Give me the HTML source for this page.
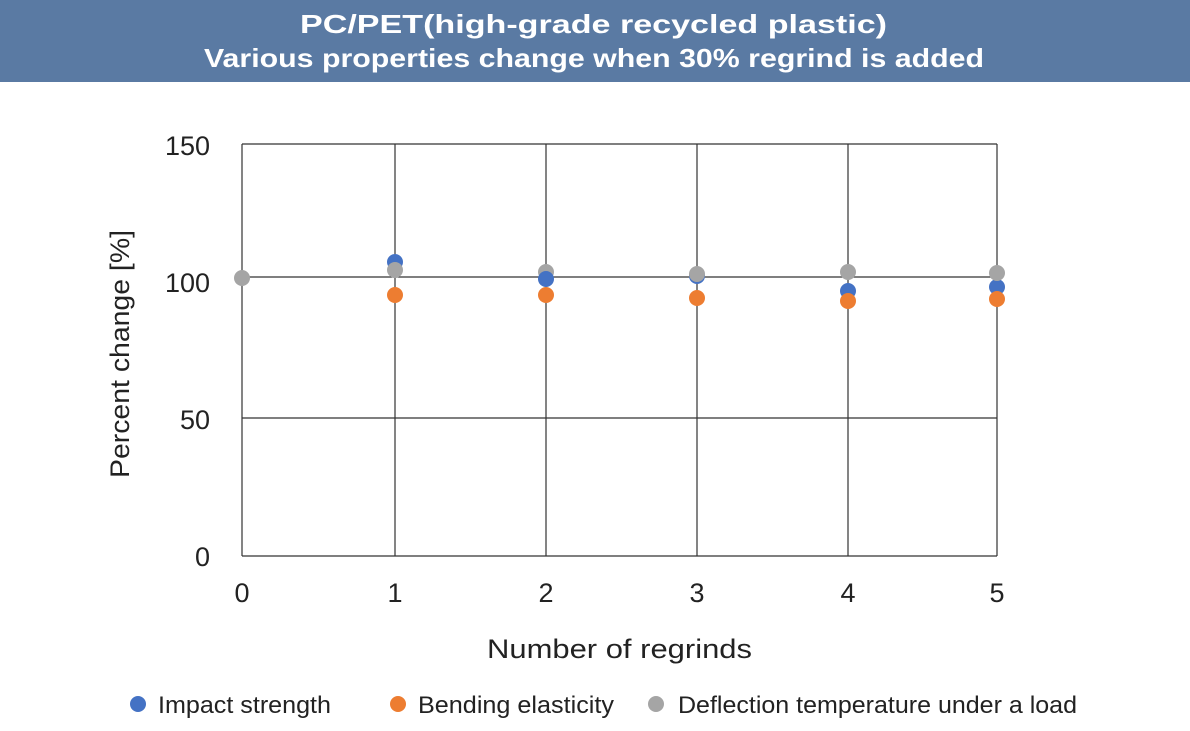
<!DOCTYPE html><html><head><style>body{margin:0;background:#fff;width:1190px;height:726px;overflow:hidden;font-family:"Liberation Sans",sans-serif}</style></head><body>
<svg width="1190" height="726" xmlns="http://www.w3.org/2000/svg" font-family="Liberation Sans, sans-serif">
<rect x="0" y="0" width="1190" height="82" fill="#5a7aa3"/>
<text x="300" y="33" fill="#fff" font-size="26" font-weight="bold" textLength="587" lengthAdjust="spacingAndGlyphs">PC/PET(high-grade recycled plastic)</text>
<text x="204" y="67" fill="#fff" font-size="26" font-weight="bold" textLength="780" lengthAdjust="spacingAndGlyphs">Various properties change when 30% regrind is added</text>
<g stroke="#333" stroke-width="1.2" fill="none">
<line x1="242" y1="144" x2="997" y2="144"/><line x1="242" y1="277" x2="997" y2="277"/><line x1="242" y1="418" x2="997" y2="418"/><line x1="242" y1="556" x2="997" y2="556"/>
<line x1="242" y1="144" x2="242" y2="556"/><line x1="395" y1="144" x2="395" y2="556"/><line x1="546" y1="144" x2="546" y2="556"/><line x1="697" y1="144" x2="697" y2="556"/><line x1="848" y1="144" x2="848" y2="556"/><line x1="997" y1="144" x2="997" y2="556"/>
</g>
<g font-size="27" fill="#222" text-anchor="end">
<text x="210" y="155">150</text><text x="210" y="292">100</text><text x="210" y="429">50</text><text x="210" y="566">0</text></g>
<g font-size="27" fill="#222" text-anchor="middle">
<text x="242" y="602">0</text><text x="395" y="602">1</text><text x="546" y="602">2</text><text x="697" y="602">3</text><text x="848" y="602">4</text><text x="997" y="602">5</text></g>
<text x="487" y="658" font-size="27" fill="#222" textLength="265" lengthAdjust="spacingAndGlyphs">Number of regrinds</text>
<text transform="translate(129,478) rotate(-90)" font-size="27" fill="#222" textLength="248" lengthAdjust="spacingAndGlyphs">Percent change [%]</text>
<g fill="#4472c4"><circle cx="395" cy="262" r="8"/><circle cx="697" cy="276" r="8"/><circle cx="848" cy="291" r="8"/><circle cx="997" cy="287" r="8"/></g>
<g fill="#a5a5a5"><circle cx="242" cy="278" r="8"/><circle cx="395" cy="270" r="8"/><circle cx="546" cy="272" r="8"/><circle cx="697" cy="274" r="8"/><circle cx="848" cy="272" r="8"/><circle cx="997" cy="273" r="8"/></g>
<circle cx="546" cy="279" r="8" fill="#4472c4"/>
<g fill="#ed7d31"><circle cx="395" cy="295" r="8"/><circle cx="546" cy="295" r="8"/><circle cx="697" cy="298" r="8"/><circle cx="848" cy="301" r="8"/><circle cx="997" cy="299" r="8"/></g>
<g font-size="24" fill="#222">
<circle cx="138" cy="704" r="8" fill="#4472c4"/><text x="158" y="713" textLength="173" lengthAdjust="spacingAndGlyphs">Impact strength</text>
<circle cx="398" cy="704" r="8" fill="#ed7d31"/><text x="418" y="713" textLength="196" lengthAdjust="spacingAndGlyphs">Bending elasticity</text>
<circle cx="656" cy="704" r="8" fill="#a5a5a5"/><text x="678" y="713" textLength="399" lengthAdjust="spacingAndGlyphs">Deflection temperature under a load</text></g>
</svg></body></html>
